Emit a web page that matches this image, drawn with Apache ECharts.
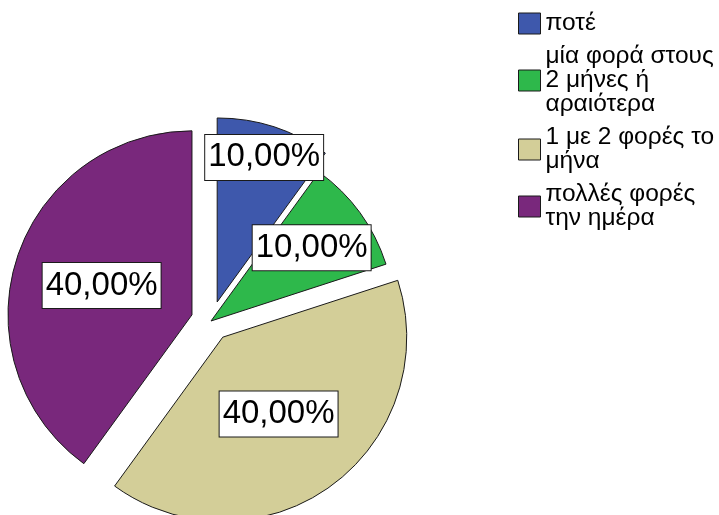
<!DOCTYPE html>
<html>
<head>
<meta charset="utf-8">
<script src="https://cdn.jsdelivr.net/npm/echarts@6/dist/echarts.min.js"></script>
<style>
  html, body { margin: 0; padding: 0; background: #fff; }
  #chart { width: 719px; height: 515px; }
</style>
</head>
<body>
<div id="chart"></div>
<script>
// Response categories and their shares (%)
const categories = ['ποτέ', 'μία φορά στους 2 μήνες ή αραιότερα', '1 με 2 φορές το μήνα', 'πολλές φορές την ημέρα'];
const legendLines = [['ποτέ'], ['μία φορά στους', '2 μήνες ή', 'αραιότερα'], ['1 με 2 φορές το', 'μήνα'], ['πολλές φορές', 'την ημέρα']];
const values = [10, 10, 40, 40];
const exploded = [true, false, true, true];
const colors = ['#3E58AC', '#2EB84B', '#D3CE98', '#79287C'];

// Where each value label sits along its slice's mid-angle, as a fraction of the radius
const labelRadius = [0.81, 0.66, 0.50, 0.50];
const R = 184;

const total = values.reduce((a, b) => a + b, 0);
const midAngles = [];
let acc = 0;
values.forEach(v => {
  midAngles.push((acc + v / 2) / total * 2 * Math.PI);
  acc += v;
});

const chart = echarts.init(document.getElementById('chart'), null, { renderer: 'canvas' });
chart.setOption({
  animation: false,
  backgroundColor: '#ffffff',
  color: colors,
  legend: {
    orient: 'vertical',
    left: 518,
    top: 11,
    padding: 0,
    itemWidth: 22,
    itemHeight: 21,
    itemGap: 8,
    selectedMode: false,
    icon: 'rect',
    itemStyle: { borderColor: '#1a1a1a', borderWidth: 1 },
    textStyle: {
      fontFamily: 'Liberation Sans, Arial, sans-serif',
      fontSize: 24.5,
      lineHeight: 24,
      color: '#000'
    },
    formatter: name => legendLines[categories.indexOf(name)].join('\n'),
    data: categories
  },
  series: [{
    type: 'pie',
    center: [211, 321],
    radius: R,
    startAngle: 90,
    clockwise: true,
    selectedMode: 'multiple',
    selectedOffset: 20,
    avoidLabelOverlap: false,
    silent: true,
    emphasis: { disabled: true },
    itemStyle: { borderColor: '#1a1a1a', borderWidth: 1 },
    select: { itemStyle: { borderColor: '#1a1a1a', borderWidth: 1 } },
    label: {
      show: true,
      position: 'inside',
      formatter: p => p.value.toFixed(2).replace('.', ',') + '%',
      fontFamily: 'Liberation Sans, Arial, sans-serif',
      fontSize: 33,
      color: '#000',
      backgroundColor: '#ffffff',
      borderColor: '#1a1a1a',
      borderWidth: 1,
      padding: [6, 3, 6, 3]
    },
    labelLine: { show: false },
    labelLayout: params => {
      const i = params.dataIndex;
      const k = labelRadius[i] - 0.5;
      return {
        dx: Math.sin(midAngles[i]) * k * R,
        dy: -Math.cos(midAngles[i]) * k * R
      };
    },
    data: categories.map((name, i) => ({ name, value: values[i], selected: exploded[i] }))
  }]
});
</script>
</body>
</html>
